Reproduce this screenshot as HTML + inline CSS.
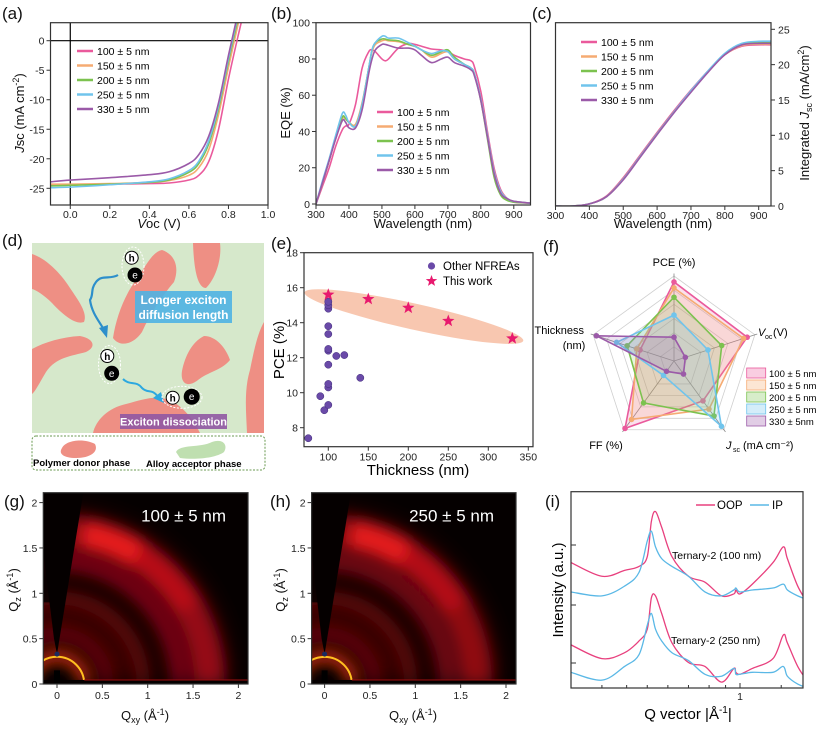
<!DOCTYPE html>
<html><head><meta charset="utf-8">
<style>
html,body{margin:0;padding:0;background:#fff;width:817px;height:729px;overflow:hidden;}
svg{display:block;font-family:"Liberation Sans",Arial,sans-serif;}
.tk{font-size:10.5px;fill:#222;}
.al{font-size:13px;fill:#111;}
.pl{font-size:17px;fill:#111;}
</style></head>
<body>
<svg id="fig" width="817" height="729" viewBox="0 0 817 729" xmlns="http://www.w3.org/2000/svg">
<defs>
<clipPath id="ca"><rect x="50.5" y="22.7" width="217.5" height="182.3"/></clipPath>
<clipPath id="cb"><rect x="316" y="22.7" width="214.5" height="182.3"/></clipPath>
<clipPath id="cc"><rect x="555.5" y="22.7" width="215.5" height="183.3"/></clipPath>
<clipPath id="cg"><rect x="43.3" y="492.7" width="204.7" height="191.3"/></clipPath>
<clipPath id="ch"><rect x="311.6" y="492.7" width="204.4" height="191.3"/></clipPath>
<clipPath id="ci"><rect x="571" y="491.7" width="232" height="196.3"/></clipPath>
<filter id="blur6" x="-50%" y="-50%" width="200%" height="200%"><feGaussianBlur stdDeviation="7"/></filter>
<filter id="blur12" x="-50%" y="-50%" width="200%" height="200%"><feGaussianBlur stdDeviation="12"/></filter>
</defs>

<text class="pl" x="2" y="19">(a)</text>
<text class="pl" x="271" y="19">(b)</text>
<text class="pl" x="532" y="19">(c)</text>
<text class="pl" x="2" y="246">(d)</text>
<text class="pl" x="271" y="249">(e)</text>
<text class="pl" x="543" y="252">(f)</text>
<text class="pl" x="4" y="507">(g)</text>
<text class="pl" x="270" y="507">(h)</text>
<text class="pl" x="545" y="507">(i)</text>

<text class="al" x="159" y="228" text-anchor="middle"><tspan font-style="italic">V</tspan>oc (V)</text>
<text class="al" transform="translate(24,113) rotate(-90)" text-anchor="middle"><tspan font-style="italic">J</tspan>sc (mA cm<tspan dy="-5" font-size="9">-2</tspan><tspan dy="5">)</tspan></text>
<text class="al" x="423" y="228" text-anchor="middle">Wavelength (nm)</text>
<text class="al" transform="translate(290,113) rotate(-90)" text-anchor="middle">EQE (%)</text>
<text class="al" x="663" y="228" text-anchor="middle">Wavelength (nm)</text>
<text class="al" transform="translate(809,113) rotate(-90)" text-anchor="middle">Integrated <tspan font-style="italic">J</tspan><tspan dy="3" font-size="9">sc</tspan><tspan dy="-3"> (mA/cm</tspan><tspan dy="-5" font-size="9">2</tspan><tspan dy="5">)</tspan></text>
<text x="418" y="475" text-anchor="middle" font-size="15">Thickness (nm)</text>
<text transform="translate(284,350) rotate(-90)" text-anchor="middle" font-size="15">PCE (%)</text>
<text class="al" x="145" y="720" text-anchor="middle">Q<tspan dy="3" font-size="9">xy</tspan><tspan dy="-3"> (Å</tspan><tspan dy="-5" font-size="9">-1</tspan><tspan dy="5">)</tspan></text>
<text class="al" transform="translate(18,590) rotate(-90)" text-anchor="middle">Q<tspan dy="3" font-size="9">z</tspan><tspan dy="-3"> (Å</tspan><tspan dy="-5" font-size="9">-1</tspan><tspan dy="5">)</tspan></text>
<text class="al" x="413" y="720" text-anchor="middle">Q<tspan dy="3" font-size="9">xy</tspan><tspan dy="-3"> (Å</tspan><tspan dy="-5" font-size="9">-1</tspan><tspan dy="5">)</tspan></text>
<text class="al" transform="translate(285,590) rotate(-90)" text-anchor="middle">Q<tspan dy="3" font-size="9">z</tspan><tspan dy="-3"> (Å</tspan><tspan dy="-5" font-size="9">-1</tspan><tspan dy="5">)</tspan></text>
<text x="688" y="719" text-anchor="middle" font-size="15">Q vector |Å<tspan dy="-6" font-size="10">-1</tspan><tspan dy="6">|</tspan></text>
<text transform="translate(563,590) rotate(-90)" text-anchor="middle" font-size="15">Intensity (a.u.)</text>

<g id="panel-d">
<rect x="32" y="243" width="232" height="190" fill="#d6e8cb"/>
<g fill="#ee8f84">
<path d="M32,254 C45,258 60,272 70,288 C78,300 88,313 84,322 C76,325 64,316 52,303 C44,295 36,290 32,289Z"/>
<path d="M113,338 C116,318 124,296 136,280 C146,266 152,252 162,250 C174,254 180,266 174,282 C162,296 150,314 142,332 C134,344 120,348 113,338Z"/>
<path d="M193,243 L220,243 C222,258 216,278 206,288 C198,288 194,272 193,243Z"/>
<path d="M32,349 C45,342 62,337 80,336 C92,338 98,346 86,352 C72,356 56,357 46,372 C40,382 35,392 32,394Z"/>
<path d="M182,371 C185,356 192,342 204,336 C216,336 226,348 230,360 C222,370 208,372 198,380 C188,388 180,384 182,371Z"/>
<path d="M264,322 L264,433 L247,433 C246,410 244,390 250,370 C254,350 258,332 264,322Z"/>
<path d="M93,433 C96,420 108,408 126,404 C142,400 156,394 172,401 C184,408 194,420 200,433Z"/>
</g>
<rect x="135" y="291" width="97" height="32" fill="#4fb2e3" opacity="0.9"/>
<text x="183.5" y="304" text-anchor="middle" font-size="12" font-weight="bold" fill="#fff">Longer exciton</text>
<text x="183.5" y="319" text-anchor="middle" font-size="12" font-weight="bold" fill="#fff">diffusion length</text>
<rect x="120" y="414" width="107" height="15" fill="#9058a3" opacity="0.9"/>
<text x="173.5" y="425.5" text-anchor="middle" font-size="11" font-weight="bold" fill="#fff">Exciton dissociation</text>
<path d="M118,275 C110,280 102,274 96,282 C90,290 94,294 90,300 C92,314 100,322 104,330" fill="none" stroke="#2d8fcb" stroke-width="2.2"/>
<path d="M99,328 L107,338 L108,325Z" fill="#2d8fcb"/>
<path d="M123,379 C130,386 136,380 142,388 C148,394 152,388 158,397" fill="none" stroke="#2ca8e0" stroke-width="2"/>
<path d="M153,398 L164,403 L161,392Z" fill="#2ca8e0"/>
<ellipse cx="133" cy="266" rx="11" ry="19" fill="none" stroke="#fff" stroke-dasharray="2,1.5"/>
<circle cx="131.7" cy="257.7" r="6.5" fill="#fff" stroke="#000"/>
<text x="131.7" y="261.5" text-anchor="middle" font-size="10" font-weight="bold">h</text>
<circle cx="135" cy="275" r="7.5" fill="#000"/>
<text x="135" y="278.5" text-anchor="middle" font-size="10" fill="#fff">e</text>
<ellipse cx="109.5" cy="364.5" rx="11" ry="19" fill="none" stroke="#fff" stroke-dasharray="2,1.5"/>
<circle cx="107.3" cy="356" r="6.5" fill="#fff" stroke="#000"/>
<text x="107.3" y="359.8" text-anchor="middle" font-size="10" font-weight="bold">h</text>
<circle cx="111.7" cy="373.3" r="7.5" fill="#000"/>
<text x="111.7" y="376.8" text-anchor="middle" font-size="10" fill="#fff">e</text>
<ellipse cx="182" cy="397.3" rx="20" ry="11" fill="none" stroke="#fff" stroke-dasharray="2,1.5"/>
<circle cx="172.7" cy="397.7" r="6.5" fill="#fff" stroke="#000"/>
<text x="172.7" y="401.5" text-anchor="middle" font-size="10" font-weight="bold">h</text>
<circle cx="191.7" cy="396.7" r="8" fill="#000"/>
<text x="191.7" y="400.2" text-anchor="middle" font-size="10" fill="#fff">e</text>
<rect x="32" y="436" width="233" height="34" rx="4" fill="#fff" stroke="#6a9a50" stroke-dasharray="2,1.5"/>
<path d="M62,448 C66,440 84,438 95,444 C99,452 90,458 76,458 C64,458 58,454 62,448Z" fill="#ee8f84"/>
<path d="M176,452 C180,444 200,448 212,442 C224,438 228,446 224,452 C216,458 196,460 180,458Z" fill="#bfdfb0"/>
<text x="33" y="466" font-size="9.5" font-weight="bold">Polymer donor phase</text>
<text x="146" y="467" font-size="9.5" font-weight="bold">Alloy acceptor phase</text>
</g>
</svg>
<script>
const seriesNames = ['100 ± 5 nm','150 ± 5 nm','200 ± 5 nm','250 ± 5 nm','330 ± 5 nm'];
const seriesColors = ['#ea5a9c','#f5ab72','#7cc24f','#70c4ec','#9b5aa8'];
const jvVoltage = [-0.1,0,0.2,0.4,0.5,0.6,0.65,0.7,0.75,0.8,0.85,0.9];
const jv100 = [-24.4,-24.4,-24.3,-24.2,-24.1,-23.6,-22.8,-20.5,-15,-6.5,1,8];
const jv150 = [-24.3,-24.3,-24.2,-24.0,-23.7,-22.8,-21.5,-18.5,-12.5,-4.5,3,10];
const jv200 = [-24.6,-24.5,-24.3,-24.0,-23.6,-22.3,-20.8,-17.5,-11.5,-3.5,4,11];
const jv250 = [-24.9,-24.8,-24.4,-23.9,-23.4,-22.0,-20.4,-17,-11,-3,4.5,11];
const jv330 = [-23.9,-23.6,-23.2,-22.7,-22.2,-20.8,-19.3,-16.2,-10.5,-2.5,5,12];
const jvTicksX = [0,0.2,0.4,0.6,0.8,1.0];
const jvTickLabelsX = ['0.0','0.2','0.4','0.6','0.8','1.0'];
const jvTicksY = [0,-5,-10,-15,-20,-25];
const eqeWl = [300,320,340,360,380,390,400,420,440,460,470,480,500,510,520,550,580,600,620,650,680,700,720,750,770,780,800,820,840,860,880,900,950];
const eqe100 = [0,10,20,32,41,43,44,55,75,84,85,84,80,79,80,86,88.5,88,87,85.5,85,84,82,80,79,76,62,40,20,8,3,1,0.5];
const eqe150 = [0,12,24,37,47,47,45,44,56,75,84,88,90,90.5,90,89.5,88,87,85,81,83,84,80,77,75,72,58,38,18,7,3,1.5,0.5];
const eqe200 = [0,12,24,37,48,47,45,43,55,75,85,89,91,91,90.5,90,88,87,85,82,84,85,81,77,75,72,57,36,15,5,2,1,0.5];
const eqe250 = [0,13,25,38,50,49,45,43,55,75,85,89,92.5,92.5,91.5,91.5,89,87,85,83,84.5,84,80,77,75,72,58,38,18,7,3,1.5,0.5];
const eqe330 = [0,12,24,36,46,45,42,42,52,72,80,85,88,88,87.5,86,86,85,82,78,80,81,78,76,74,71,57,37,17,6,3,1.5,0.5];
const eqeTicksX = [300,400,500,600,700,800,900];
const eqeTicksY = [0,20,40,60,80,100];
const intWl = [300,350,400,450,500,550,600,650,700,750,800,850,900,950];
const int100 = [0,0,0.3,1.4,4.0,7.2,10.4,13.5,16.4,19.1,21.4,22.6,22.8,22.8];
const int150 = [0,0,0.3,1.3,3.8,7.0,10.2,13.3,16.2,19.0,21.4,22.7,22.9,22.9];
const int200 = [0,0,0.3,1.3,3.8,7.0,10.2,13.3,16.2,19.0,21.5,22.9,23.1,23.1];
const int250 = [0,0,0.3,1.3,3.8,7.0,10.2,13.3,16.3,19.1,21.6,23.0,23.3,23.3];
const int330 = [0,0,0.3,1.3,3.7,6.9,10.1,13.2,16.1,18.9,21.4,22.8,23.0,23.0];
const intTicksY = [0,5,10,15,20,25];
const otherThick = [75,90,95,100,100,100,100,100,100,100,100,100,100,100,110,120,140];
const otherPce = [7.4,9.8,9.0,9.3,10.3,10.5,11.6,12.4,12.5,13.35,13.8,14.8,15.0,15.2,12.1,12.15,10.85];
const workThick = [100,150,200,250,330];
const workPce = [15.6,15.35,14.85,14.1,13.1];
const eTicksX = [100,150,200,250,300,350];
const eTicksY = [8,10,12,14,16,18];
const radarAxes = ['PCE (%)','Voc (V)','Jsc (mA cm-2)','FF (%)','Thickness (nm)'];
const radar100 = [0.93,0.905,0.58,0.98,0.42];
const radar150 = [0.86,0.86,0.70,0.85,0.46];
const radar200 = [0.75,0.59,0.80,0.61,0.58];
const radar250 = [0.54,0.42,0.95,0.21,0.71];
const radar330 = [0.28,0.14,0.19,0.15,0.96];
const ringQ = [0.3,0.55,0.95,1.35,1.68];
const ringI100 = [1.0,0.3,0.35,0.4,0.6];
const ringI250 = [1.0,0.3,0.35,0.35,0.55];
const giTicks = [0,0.5,1,1.5,2];
const giTickLabels = ['0','0.5','1','1.5','2'];
const cutQ = [0.18,0.33,0.44,0.51,0.55,0.57,0.59,0.62,0.67,0.75,0.83,0.91,0.97,0.98,1.00,1.06,1.16,1.21,1.23,1.28,1.33];
const oop100 = [64,57,60,62,67,85,90,82,67,57,54,47,48,50,48,53,64,72,66,52,43];
const ip100 = [49,47,52,59,75,80,72,66,62,57,49,47,50,51,49,50,51,53,50,47,45];
const oop250 = [22,15,18,24,30,46,47,38,23,13,11,3,10,8,7,10,15,27,23,11,3];
const ip250 = [8,4,11,17,32,38,30,24,18,14,7,6,10,7,7,8,8,11,6,2,0];

const NS='http://www.w3.org/2000/svg';
const svg=document.getElementById('fig');
function mk(tag,attrs,parent){const e=document.createElementNS(NS,tag);for(const k in attrs)e.setAttribute(k,attrs[k]);(parent||svg).appendChild(e);return e;}
function lin(d0,d1,r0,r1){return v=>r0+(v-d0)*(r1-r0)/(d1-d0);}
function smooth(p){let d='M'+p[0][0].toFixed(2)+','+p[0][1].toFixed(2);for(let i=0;i<p.length-1;i++){const p0=p[i-1]||p[i],p1=p[i],p2=p[i+1],p3=p[i+2]||p2;const c1x=p1[0]+(p2[0]-p0[0])/6,c1y=p1[1]+(p2[1]-p0[1])/6,c2x=p2[0]-(p3[0]-p1[0])/6,c2y=p2[1]-(p3[1]-p1[1])/6;d+=`C${c1x.toFixed(2)},${c1y.toFixed(2)},${c2x.toFixed(2)},${c2y.toFixed(2)},${p2[0].toFixed(2)},${p2[1].toFixed(2)}`;}return d;}
function upperArc(x0,y0,r){return `M${x0+r},${y0} A${r},${r} 0 0 0 ${x0-r},${y0}`;}
function frame(x,y,w,h,name){const r=mk('rect',{x:x,y:y,width:w,height:h,fill:'none',stroke:'#333','stroke-width':1.2});}
function xticks(vals,labels,sx,y0,name,dy){vals.forEach((v,i)=>{const t=mk('line',{x1:sx(v),x2:sx(v),y1:y0,y2:y0+4,stroke:'#333'});const l=mk('text',{x:sx(v),y:y0+(dy||13),'text-anchor':'middle',class:'tk'});l.textContent=labels?labels[i]:String(v);});}
function yticks(vals,labels,sy,x0,name,right){vals.forEach((v,i)=>{const t=mk('line',{x1:x0,x2:right?x0+4:x0-4,y1:sy(v),y2:sy(v),stroke:'#333'});const l=mk('text',{x:right?x0+7:x0-6,y:sy(v)+4,'text-anchor':right?'start':'end',class:'tk'});l.textContent=labels?labels[i]:String(v);});}
function legend(x,y,step,parent){seriesNames.forEach((n,i)=>{const l=mk('line',{x1:x,x2:x+16,y1:y+i*step,y2:y+i*step,stroke:seriesColors[i],'stroke-width':2.5},parent);const t=mk('text',{x:x+20,y:y+i*step+4,'font-size':10.5},parent);t.textContent=n;});}

{const sx=lin(-0.1,1.0,50.5,268), sy=lin(0,-25,40.7,188.3);
const g=mk('g',{'clip-path':'url(#ca)'});
const zl=mk('line',{x1:50.5,x2:268,y1:sy(0),y2:sy(0),stroke:'#000','stroke-width':1.2},g);
const zv=mk('line',{x1:sx(0),x2:sx(0),y1:22,y2:205,stroke:'#000','stroke-width':1.2},g);
[jv100,jv150,jv200,jv250,jv330].forEach((s,k)=>{const p=mk('path',{d:smooth(jvVoltage.map((v,i)=>[sx(v),sy(s[i])])),fill:'none',stroke:seriesColors[k],'stroke-width':1.6},g);});
frame(50.5,22.7,217.5,182.3,'jv-frame');
xticks(jvTicksX,jvTickLabelsX,sx,205,'jv-x');yticks(jvTicksY,null,sy,50.5,'jv-y');
legend(77,51,14.5);}

{const sx=lin(300,900,316,513.8), sy=lin(0,100,204,22.7);
const g=mk('g',{'clip-path':'url(#cb)'});
[eqe100,eqe150,eqe200,eqe250,eqe330].forEach((s,k)=>{const p=mk('path',{d:smooth(eqeWl.map((v,i)=>[sx(v),sy(s[i])])),fill:'none',stroke:seriesColors[k],'stroke-width':1.6},g);});
frame(316,22.7,214.5,182.3,'eqe-frame');
xticks(eqeTicksX,null,sx,205,'eqe-x');yticks(eqeTicksY,null,sy,316,'eqe-y');
legend(377,112,14.5);}

{const sx=lin(300,900,555.5,758.7), sy=lin(0,25,206,29.3);
const g=mk('g',{'clip-path':'url(#cc)'});
[int100,int150,int200,int250,int330].forEach((s,k)=>{const p=mk('path',{d:smooth(intWl.map((v,i)=>[sx(v),sy(s[i])])),fill:'none',stroke:seriesColors[k],'stroke-width':1.6},g);});
frame(555.5,22.7,215.5,183.3,'int-frame');
xticks(eqeTicksX,null,sx,206,'int-x');yticks(intTicksY,null,sy,771,'int-y',true);
legend(581,42,14.5);}

{const sx=lin(100,300,328.3,488.3), sy=lin(8,18,427.7,252.7);
const eg=mk('g',{});
const cx=sx(207),cy=sy(14.35),ang=Math.atan2(sy(13.05)-sy(15.65),sx(335)-sx(78))*180/Math.PI;
const el=mk('ellipse',{cx:cx,cy:cy,rx:112,ry:13,fill:'#f6b496',opacity:0.75,transform:`rotate(${ang} ${cx} ${cy})`},eg);
otherThick.forEach((t,i)=>{const c=mk('circle',{cx:sx(t),cy:sy(otherPce[i]),r:3.6,fill:'#6a4aa8',stroke:'#3e2a78','stroke-width':0.5},eg);});
function star(x,y,r){let d='';for(let i=0;i<10;i++){const a=-Math.PI/2+i*Math.PI/5,rr=i%2?r*0.42:r;d+=(i?'L':'M')+(x+rr*Math.cos(a)).toFixed(2)+','+(y+rr*Math.sin(a)).toFixed(2);}return d+'Z';}
workThick.forEach((t,i)=>{const s=mk('path',{d:star(sx(t),sy(workPce[i]),6.5),fill:'#e8196e'},eg);});
frame(304,252.7,229,194,'pce-frame');
xticks(eTicksX,null,sx,446.7,'pce-x',14);yticks(eTicksY,null,sy,304,'pce-y');
const ld=mk('circle',{cx:431.5,cy:266,r:3.6,fill:'#6a4aa8'},eg);
const lt=mk('text',{x:443,y:270,'font-size':11.5},eg);lt.textContent='Other NFREAs';
const ls=mk('path',{d:star(431.5,281,6),fill:'#e8196e'},eg);
const lt2=mk('text',{x:443,y:285,'font-size':11.5},eg);lt2.textContent='This work';}

{const cx=674,cy=361,R=85;const angs=[90,18,-54,-126,162].map(a=>a*Math.PI/180);
const pt=(k,r)=>[cx+R*r*Math.cos(angs[k]),cy-R*r*Math.sin(angs[k])];
const g=mk('g',{});
for(let l=1;l<=6;l++){const r=l/6;const p=mk('polygon',{points:[0,1,2,3,4].map(k=>pt(k,r).join(',')).join(' '),fill:'none',stroke:'#cfcfcf','stroke-width':0.8},g);}
for(let k=0;k<5;k++){const e=pt(k,1.03);const s=mk('line',{x1:cx,y1:cy,x2:e[0],y2:e[1],stroke:'#888','stroke-width':0.8},g);}
[radar100,radar150,radar200,radar250,radar330].forEach((s,i)=>{const pts=s.map((v,k)=>pt(k,v));const pg=mk('polygon',{points:pts.map(p=>p.join(',')).join(' '),fill:seriesColors[i],'fill-opacity':0.18,stroke:seriesColors[i],'stroke-width':1.6},g);pts.forEach(p=>{const c=mk('circle',{cx:p[0],cy:p[1],r:2.8,fill:seriesColors[i]},g);});});
const labs=[['PCE (%)',674,266,'middle'],['(V)',773,336,'start'],['FF (%)',606,449,'middle'],['Thickness',584,334,'end'],['(nm)',574,349,'middle']];
labs.forEach(L=>{const t=mk('text',{x:L[1],y:L[2],'text-anchor':L[3],'font-size':11},g);t.textContent=L[0];});
const v=mk('text',{x:758,y:336,'font-size':11,'font-style':'italic'},g);v.textContent='V';
const vs=mk('text',{x:765,y:339,'font-size':7},g);vs.textContent='oc';
const j=mk('text',{x:726,y:449,'font-size':11,'font-style':'italic'},g);j.textContent='J';
const js=mk('text',{x:733,y:452,'font-size':7},g);js.textContent='sc';
const jt=mk('text',{x:743,y:449,'font-size':11},g);jt.textContent='(mA cm⁻²)';
seriesNames.forEach((n,i)=>{const r=mk('rect',{x:746.7,y:368+i*12,width:19,height:10,fill:seriesColors[i],'fill-opacity':0.3,stroke:seriesColors[i],'stroke-width':0.8},g);const t=mk('text',{x:769,y:377+i*12,'font-size':9.5},g);t.textContent=i==4?'330 ± 5nm':n;});}

function giwaxs(x0,y0,bx,by,bw,bh,clip,ints,label,name){const s=90.7;const g=mk('g',{'clip-path':`url(#${clip})`});
const bg=mk('rect',{x:bx,y:by,width:bw,height:bh,fill:'#050000'},g);
const bw2=mk('g',{filter:'url(#blur12)'},g);
const big=mk('path',{d:upperArc(x0,y0,1.55*s),fill:'none',stroke:'#8a0a10','stroke-width':60,opacity:0.55},bw2);
const inner=mk('path',{d:upperArc(x0,y0,0.7*s),fill:'none',stroke:'#5a0508','stroke-width':50,opacity:0.6},bw2);
const b=mk('g',{filter:'url(#blur6)'},g);
ringQ.forEach((q,i)=>{const r=q*s;if(i===0){const c=mk('path',{d:upperArc(x0,y0,r),fill:'none',stroke:'#ff3a10','stroke-width':12,opacity:0.75},b);return;}
const c=mk('path',{d:upperArc(x0,y0,r),fill:'none',stroke:'#c8101a','stroke-width':i==4?30:14,opacity:ints[i]},b);});
const a1=58*Math.PI/180,a2=80*Math.PI/180,rr=ringQ[4]*s;
const hot=mk('path',{d:`M${x0+rr*Math.cos(a2)},${y0-rr*Math.sin(a2)} A${rr},${rr} 0 0 1 ${x0+rr*Math.cos(a1)},${y0-rr*Math.sin(a1)}`,fill:'none',stroke:'#ff2020','stroke-width':28,opacity:0.75},b);
const a3=30*Math.PI/180;
const warm=mk('path',{d:`M${x0+rr*Math.cos(a1)},${y0-rr*Math.sin(a1)} A${rr},${rr} 0 0 1 ${x0+rr*Math.cos(a3)},${y0-rr*Math.sin(a3)}`,fill:'none',stroke:'#e01018','stroke-width':26,opacity:0.45},b);
const r0=ringQ[0]*s;const yr=mk('path',{d:upperArc(x0,y0,r0),fill:'none',stroke:'#ffc020','stroke-width':2},g);
const left=mk('rect',{x:bx,y:by,width:x0-bx-1,height:y0-0.9*s-by,fill:'#050000',opacity:0.85},g);
const wedge=mk('polygon',{points:`${x0},${y0-0.33*s} ${x0+0.29*s},${by} ${bx},${by} ${bx},${y0-1.45*s} ${x0-3},${y0-0.5*s}`,fill:'#050000'},g);
const hl=mk('rect',{x:bx,y:y0-4,width:bw,height:4,fill:'#050000'},g);
const hr=mk('line',{x1:x0+0.3*s,x2:bx+bw,y1:y0-4,y2:y0-4,stroke:'#a01010','stroke-width':1},g);
const bs=mk('rect',{x:x0-3,y:y0-0.15*s,width:6,height:0.15*s,fill:'#000'},g);
const bd=mk('circle',{cx:x0,cy:y0-0.33*s,r:2.5,fill:'#1a2a60'},g);
const t=mk('text',{x:bx+bw-22,y:by+29,'text-anchor':'end','font-size':17,fill:'#fff'});t.textContent=label;
frame(bx,by,bw,bh,name+'-frame');
const sx=v=>x0+v*s,sy=v=>y0-v*s;xticks(giTicks,giTickLabels,sx,by+bh,name+'-x',15);yticks(giTicks,giTickLabels,sy,bx,name+'-y');}
giwaxs(57,684,43.3,492.7,204.7,191.3,'cg',ringI100,'100 ± 5 nm','giwaxs-100nm');
giwaxs(324.6,684,311.6,492.7,204.4,191.3,'ch',ringI250,'250 ± 5 nm','giwaxs-250nm');

{const sx=lin(0.18,1.0,571,740), sy=lin(0,100,688,492);
const g=mk('g',{'clip-path':'url(#ci)'});
[[oop100,'#e8407e','oop-100nm'],[ip100,'#5ab8e6','ip-100nm'],[oop250,'#e8407e','oop-250nm'],[ip250,'#5ab8e6','ip-250nm']].forEach(S=>{const p=mk('path',{d:smooth(cutQ.map((q,i)=>[sx(q),sy(S[0][i])])),fill:'none',stroke:S[1],'stroke-width':1.3},g);});
frame(571,491.7,232,196.3,'linecut-frame');
const t1=mk('line',{x1:sx(1),x2:sx(1),y1:688,y2:683,stroke:'#333'});
const l1=mk('text',{x:sx(1),y:700,'text-anchor':'middle',class:'tk'});l1.textContent='1';
[0.33,0.45,0.55,0.65,0.75,0.85,0.93,1.2].forEach(q=>{const m=mk('line',{x1:sx(q),x2:sx(q),y1:688,y2:685,stroke:'#333'});});
[545,605,663].forEach(y=>{const m=mk('line',{x1:571,x2:576,y1:y,y2:y,stroke:'#333'});});
const a=mk('line',{x1:696,x2:715,y1:505,y2:505,stroke:'#e8407e','stroke-width':1.5});
const at=mk('text',{x:717,y:509,'font-size':11.5});at.textContent='OOP';
const b=mk('line',{x1:750,x2:769,y1:505,y2:505,stroke:'#5ab8e6','stroke-width':1.5});
const bt=mk('text',{x:772,y:509,'font-size':11.5});bt.textContent='IP';
const c1=mk('text',{x:672,y:559,'font-size':10.5});c1.textContent='Ternary-2 (100 nm)';
const c2=mk('text',{x:671,y:644,'font-size':10.5});c2.textContent='Ternary-2 (250 nm)';}
</script>
</body></html>
